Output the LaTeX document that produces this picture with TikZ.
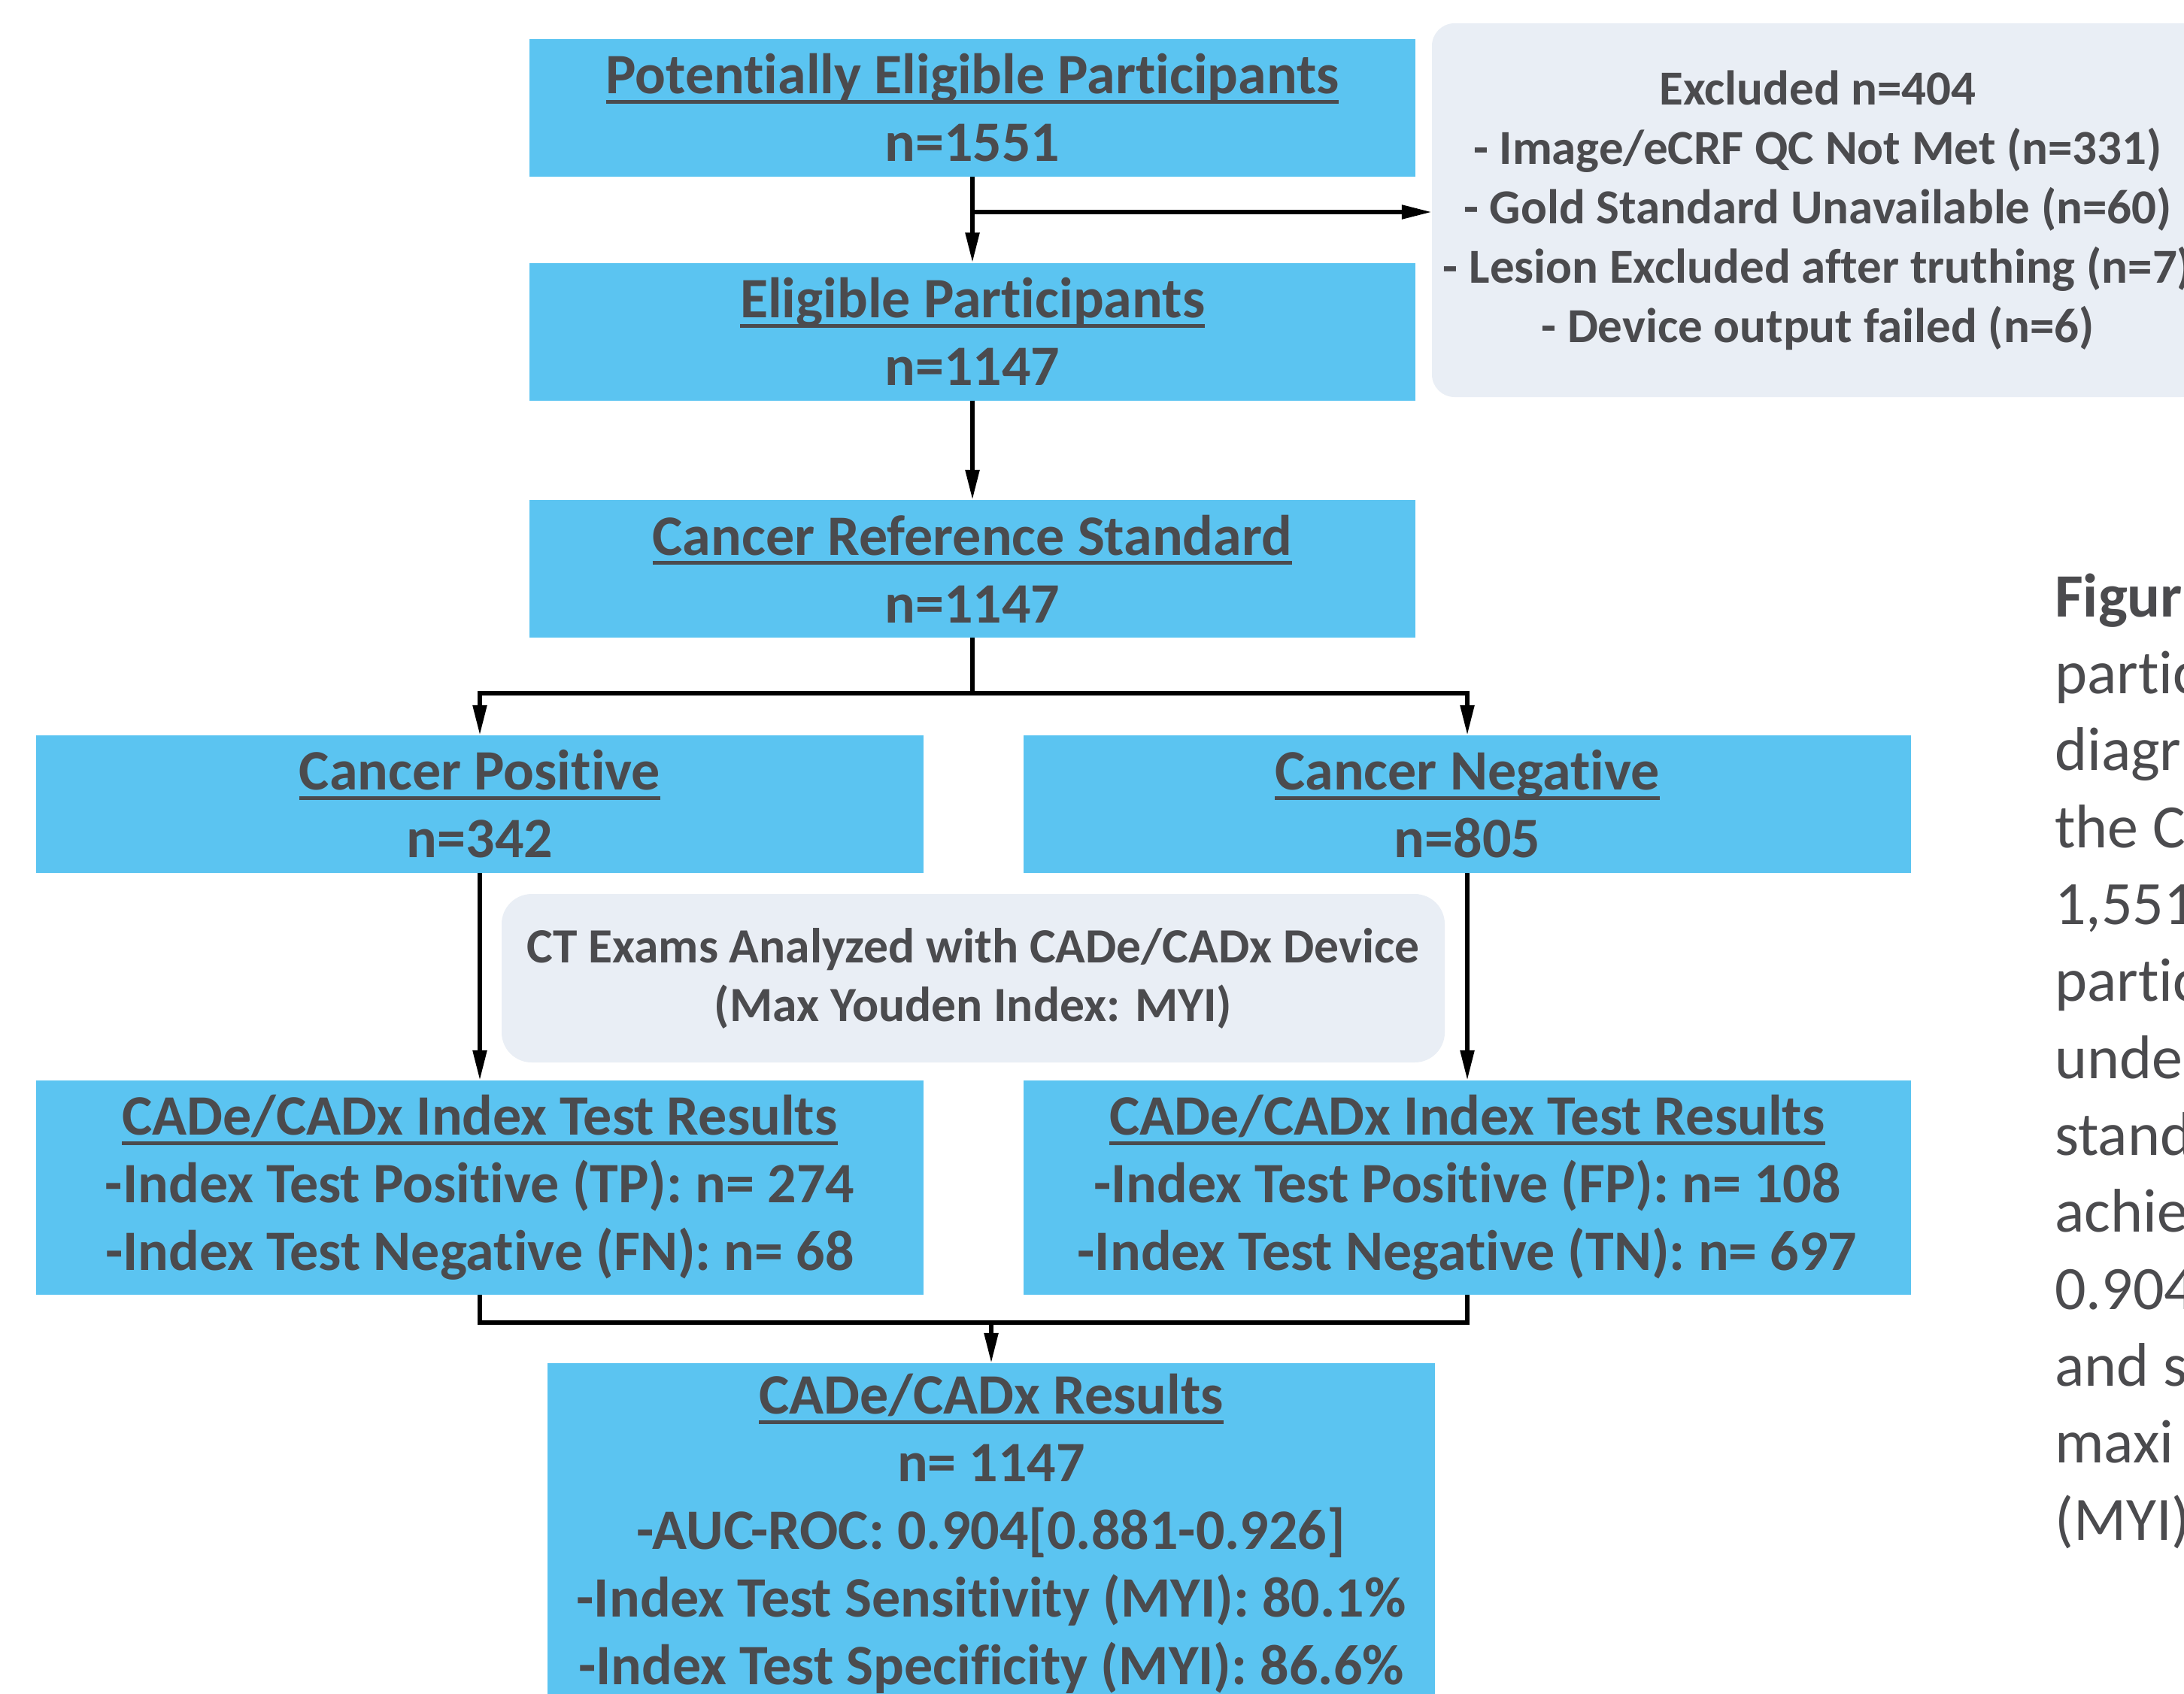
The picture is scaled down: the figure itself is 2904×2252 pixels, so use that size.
\documentclass[tikz,border=0pt]{standalone}
\usepackage{fontspec}
\setmainfont{Carlito}[Ligatures=NoCommon]
\usetikzlibrary{arrows.meta}
\definecolor{txt}{HTML}{4B4B4E}
\definecolor{bluefill}{HTML}{5BC4F1}
\definecolor{grayfill}{HTML}{E9EEF5}
\newcommand\myul[1]{\setbox0\hbox{#1}\rlap{\rule[-13pt]{\wd0}{5pt}}\box0}
\begin{document}
\begin{tikzpicture}[x=1pt,y=-1pt,
  bluebox/.style={fill=bluefill, draw=none, inner sep=0pt, align=center, text=txt,
    font=\fontsize{76}{90}\selectfont\bfseries, minimum width=1178pt, minimum height=183pt},
  graybox/.style={fill=grayfill, draw=none, inner sep=0pt, align=center, text=txt},
  conn/.style={line width=5.5pt, draw=black},
  arr/.style={conn, -{Triangle[length=40pt,width=18pt]}},
  side/.style={anchor=base west, inner sep=0pt, text=txt, font=\fontsize{82}{100}\selectfont}
]
\useasboundingbox (0,0) rectangle (2904,2252);
\clip (0,0) rectangle (2904,2252);
\fill[white] (0,0) rectangle (2904,2252);

% boxes
\node[bluebox] (b1) at (1293,143.5) {\myul{Potentially Eligible Participants}\\n=1551};
\node[bluebox] (b2) at (1293,441) {\myul{Eligible Participants}\\n=1147};
\node[bluebox] (b3) at (1293,756.5) {\myul{Cancer Reference Standard}\\n=1147};
\node[bluebox, minimum width=1180pt] (pos) at (638,1069.5) {\myul{Cancer Positive}\\n=342};
\node[bluebox, minimum width=1180pt] (neg) at (1951,1069.5) {\myul{Cancer Negative}\\n=805};
\node[graybox, rounded corners=40pt, minimum width=1254pt, minimum height=224pt,
  font=\fontsize{65.5}{78}\selectfont\bfseries] (ct) at (1294,1301)
  {CT Exams Analyzed with CADe/CADx Device\\(Max Youden Index: MYI)};
\node[bluebox, minimum width=1180pt, minimum height=285pt] (ipos) at (638,1579.5)
  {\myul{CADe/CADx Index Test Results}\\-Index Test Positive (TP): n= 274\\-Index Test Negative (FN): n= 68};
\node[bluebox, minimum width=1180pt, minimum height=285pt] (ineg) at (1951,1579.5)
  {\myul{CADe/CADx Index Test Results}\\-Index Test Positive (FP): n= 108\\-Index Test Negative (TN): n= 697};
\node[bluebox, minimum width=1180pt, minimum height=454pt] (res) at (1318,2040)
  {\myul{CADe/CADx Results}\\n= 1147\\-AUC-ROC: 0.904[0.881-0.926]\\-Index Test Sensitivity (MYI): 80.1\%\\-Index Test Specificity (MYI): 86.6\%};
\node[graybox, rounded corners=30pt, minimum width=1026pt, minimum height=497pt,
  font=\fontsize{65}{79}\selectfont\bfseries] (excl) at (2417,279.5)
  {Excluded n=404\\- Image/eCRF QC Not Met (n=331)\\- Gold Standard Unavailable (n=60)\\- Lesion Excluded after truthing (n=7)\\- Device output failed (n=6)};

% connectors
\coordinate (j1) at (1293,282);
\draw[arr] (b1.south) -- (b2.north);
\draw[arr] (j1) -- (j1 -| excl.west);
\draw[arr] (b2.south) -- (b3.north);
\coordinate (s) at (1293,922);
\draw[conn] (b3.south) -- (s);
\draw[arr] (s) -| (pos.north);
\draw[arr] (s) -| (neg.north);
\draw[arr] (pos.south) -- (ipos.north);
\draw[arr] (neg.south) -- (ineg.north);
\coordinate (m) at (1318,1759);
\draw[conn] (ipos.south) |- (m) -| (ineg.south);
\draw[arr] (m) -- (res.north);

% side caption (cut at right edge)
\node[side, font=\fontsize{82}{100}\selectfont\bfseries] (r1) at (2732,820) {Figur};
\node[side] (r2) at (2732,922) {partic};
\node[side] (r3) at (2732,1024) {diagr};
\node[side] (r4) at (2732,1127) {the C};
\node[side] (r5) at (2732,1229) {1,551};
\node[side] (r6) at (2732,1331) {partic};
\node[side] (r7) at (2732,1434) {unde};
\node[side] (r8) at (2732,1536) {stand};
\node[side] (r9) at (2732,1638) {achie};
\node[side] (r10) at (2732,1741) {0.904};
\node[side] (r11) at (2732,1843) {and s};
\node[side] (r12) at (2732,1945) {maxi};
\node[side] (r13) at (2732,2048) {(MYI)};
\end{tikzpicture}
\end{document}
